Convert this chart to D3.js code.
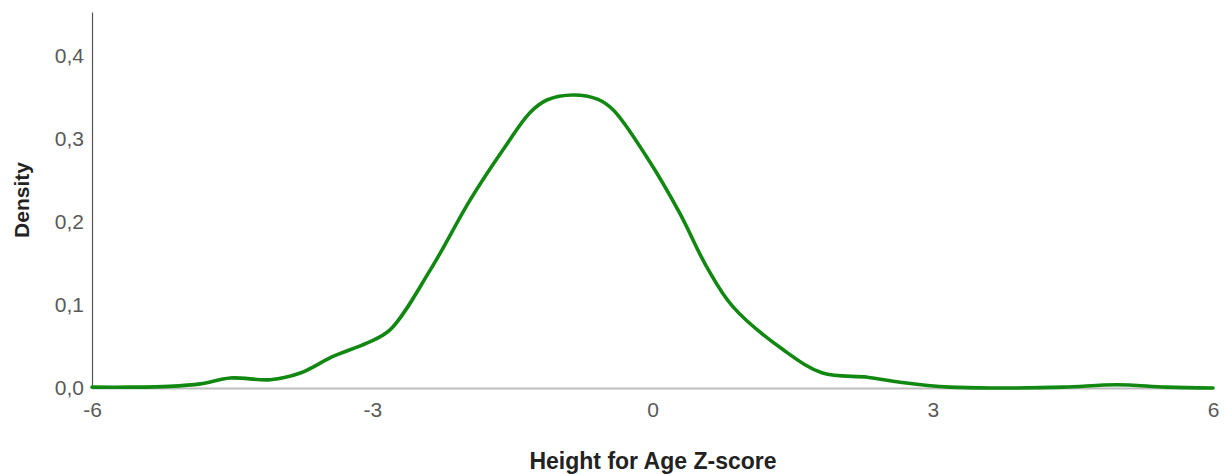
<!DOCTYPE html>
<html><head><meta charset="utf-8">
<script src="https://cdn.jsdelivr.net/npm/d3@7"></script>
<style>body{margin:0;background:#fff;}svg{display:block;}</style>
</head><body>
<svg id="chart" width="1225" height="474"></svg>
<script>
// Data
const zScores = [-6.00,-5.59,-5.17,-4.84,-4.52,-4.09,-3.77,-3.42,-3.06,-2.81,-2.38,-1.95,-1.60,-1.31,-1.13,-0.85,-0.59,-0.42,-0.06,0.29,0.58,0.86,1.40,1.82,2.30,2.65,3.18,3.72,4.40,4.97,5.50,6.00];
const density = [0.001,0.001,0.002,0.005,0.012,0.010,0.018,0.038,0.054,0.070,0.142,0.227,0.287,0.332,0.347,0.353,0.348,0.335,0.278,0.211,0.146,0.098,0.046,0.018,0.013,0.007,0.001,0.000,0.001,0.004,0.001,0.000];
const xTicks = [-6,-3,0,3,6];
const yTicks = [0,0.1,0.2,0.3,0.4];
const xTitle = "Height for Age Z-score";
const yTitle = "Density";

(function(){
const svg = d3.select("#chart");
const mL = 92, mR = 1213, mT = 12, mB = 388;
const x = d3.scaleLinear().domain([-6,6]).range([mL,mR]);
const y = d3.scaleLinear().domain([0,0.453]).range([mB,mT]);

const font = "'Liberation Sans', Arial, sans-serif";

// X axis
const xAxis = svg.append("g").attr("transform",`translate(0,${mB})`)
  .call(d3.axisBottom(x).tickValues(xTicks).tickSize(0).tickPadding(14).tickFormat(d=>String(d)));
xAxis.select(".domain").attr("stroke","#bdbdbd").attr("stroke-width",2);
xAxis.selectAll("text").attr("font-family",font).attr("font-size",21).attr("fill","#595959");

// Y axis
const yAxis = svg.append("g").attr("transform",`translate(${mL},0)`)
  .call(d3.axisLeft(y).tickValues(yTicks).tickSize(0).tickPadding(8).tickFormat(d=>d3.format(".1f")(d).replace(".",",")));
yAxis.select(".domain").attr("stroke","#555").attr("stroke-width",1.2);
yAxis.selectAll("text").attr("font-family",font).attr("font-size",21).attr("fill","#595959");

// Curve
const pts = zScores.map((z,i)=>[z,density[i]]);
svg.append("path").datum(pts)
  .attr("fill","none").attr("stroke","#118811").attr("stroke-width",3.6)
  .attr("stroke-linejoin","round").attr("stroke-linecap","round")
  .attr("d",d3.line().x(d=>x(d[0])).y(d=>y(Math.max(0,d[1]))).curve(d3.curveCatmullRom.alpha(0.5)));

// Titles
svg.append("text").attr("x",653).attr("y",469).attr("text-anchor","middle")
  .attr("font-family",font).attr("font-weight","bold").attr("font-size",23).attr("fill","#222").text(xTitle);
svg.append("text").attr("transform","translate(29,200) rotate(-90)").attr("text-anchor","middle")
  .attr("font-family",font).attr("font-weight","bold").attr("font-size",21).attr("fill","#222").text(yTitle);
})();
</script>
</body></html>
